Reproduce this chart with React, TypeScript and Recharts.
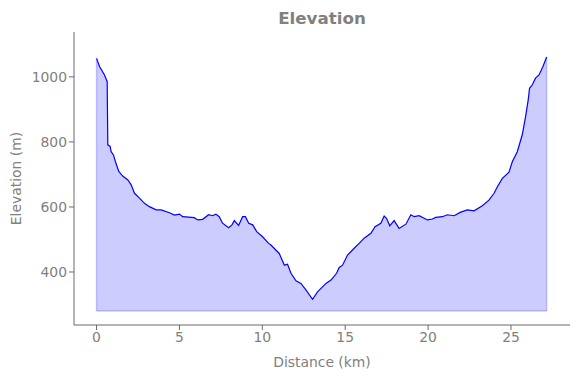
import {
  ComposedChart,
  Area,
  Line,
  XAxis,
  YAxis,
  ReferenceLine,
} from 'recharts';

const distanceKm = [
  0.0, 0.18, 0.48, 0.64, 0.68, 0.82, 0.88, 1.02, 1.14, 1.34, 1.58, 1.89, 2.09,
  2.29, 2.59, 2.89, 3.19, 3.6, 3.9, 4.4, 4.7, 5.0, 5.2, 5.9, 6.1, 6.4, 6.76,
  7.0, 7.2, 7.4, 7.6, 7.97, 8.17, 8.31, 8.57, 8.81, 8.98, 9.18, 9.42, 9.66,
  10.0, 10.38, 10.52, 11.02, 11.33, 11.52, 11.73, 12.03, 12.33, 12.63, 13.03,
  13.33, 13.84, 14.14, 14.48, 14.64, 14.84, 15.14, 15.54, 15.84, 16.14, 16.55,
  16.8, 17.15, 17.35, 17.49, 17.69, 17.95, 18.25, 18.66, 18.96, 19.16, 19.46,
  19.96, 20.26, 20.46, 20.86, 21.16, 21.57, 21.97, 22.37, 22.77, 23.27, 23.67,
  23.98, 24.18, 24.48, 24.88, 25.08, 25.38, 25.68, 25.88, 26.04, 26.12, 26.28,
  26.48, 26.69, 26.93, 27.15,
];

const elevationM = [
  1057, 1032, 1006, 986, 791, 786, 770, 760, 739, 709, 695, 683, 668, 642, 627,
  611, 601, 591, 591, 582, 575, 578, 570, 567, 560, 562, 576, 573, 578, 570,
  550, 536, 545, 558, 543, 570, 570, 550, 545, 524, 509, 488, 483, 457, 421,
  424, 396, 373, 365, 345, 316, 339, 365, 375, 396, 414, 421, 452, 473, 488,
  504, 519, 539, 550, 572, 565, 542, 558, 534, 547, 576, 570, 573, 560, 563,
  568, 570, 576, 573, 584, 591, 588, 604, 621, 642, 662, 688, 707, 739, 770,
  822, 878, 929, 965, 975, 996, 1006, 1032, 1061,
];

const xTicks = [0, 5, 10, 15, 20, 25];
const yTicks = [400, 600, 800, 1000];
const fillBase = 280;

const data = distanceKm.map((d, i) => ({ d, elev: elevationM[i] }));
const firstD = distanceKm[0];
const lastD = distanceKm[distanceKm.length - 1];

const textGray = '#808080';
const axisGray = '#6b6b6b';
const edgeBlue = 'rgba(0,0,255,0.2)';
const font = 'DejaVu Sans, sans-serif';
const fs = 13.9;

export default function App() {
  return (
    <div
      style={{
        position: 'absolute',
        left: 0,
        top: 0,
        width: 580,
        height: 378,
        background: '#fff',
        fontFamily: font,
      }}
    >
      <div
        style={{
          position: 'absolute',
          left: 74,
          width: 496,
          top: 8,
          textAlign: 'center',
          fontSize: 16.7,
          fontWeight: 'bold',
          color: textGray,
        }}
      >
        Elevation
      </div>
      <ComposedChart
        width={580}
        height={378}
        data={data}
        margin={{ top: 32, right: 10, bottom: 0, left: 0 }}
      >
        <XAxis
          dataKey="d"
          type="number"
          domain={[-1.36, 28.56]}
          ticks={xTicks}
          allowDataOverflow
          height={53}
          stroke={axisGray}
          tickSize={5}
          tick={{ fill: textGray, fontSize: fs, fontFamily: font }}
          label={{
            value: 'Distance (km)',
            position: 'insideBottom',
            offset: 11,
            fill: textGray,
            fontSize: fs,
            fontFamily: font,
          }}
        />
        <YAxis
          type="number"
          domain={[237, 1138]}
          ticks={yTicks}
          allowDataOverflow
          width={74}
          stroke={axisGray}
          tickSize={5}
          tick={{ fill: textGray, fontSize: fs, fontFamily: font }}
          label={({ viewBox }: any) => {
            const cx = viewBox.x + 16;
            const cy = viewBox.y + viewBox.height / 2;
            return (
              <text
                x={cx}
                y={cy}
                transform={`rotate(-90 ${cx} ${cy})`}
                textAnchor="middle"
                dominantBaseline="central"
                fill={textGray}
                fontSize={fs}
                fontFamily={font}
              >
                Elevation (m)
              </text>
            );
          }}
        />
        <Area
          type="linear"
          dataKey="elev"
          baseValue={fillBase}
          stroke="none"
          fill="#0000ff"
          fillOpacity={0.2}
          isAnimationActive={false}
        />
        {/* fill outline on the base and the two ends */}
        <ReferenceLine
          segment={[
            { x: firstD, y: fillBase },
            { x: lastD, y: fillBase },
          ]}
          stroke={edgeBlue}
          strokeWidth={1.5}
        />
        <ReferenceLine
          segment={[
            { x: firstD, y: fillBase },
            { x: firstD, y: elevationM[0] },
          ]}
          stroke={edgeBlue}
          strokeWidth={1.5}
        />
        <ReferenceLine
          segment={[
            { x: lastD, y: fillBase },
            { x: lastD, y: elevationM[elevationM.length - 1] },
          ]}
          stroke={edgeBlue}
          strokeWidth={1.5}
        />
        <Line
          type="linear"
          dataKey="elev"
          stroke="#0000ff"
          strokeWidth={1.2}
          dot={false}
          isAnimationActive={false}
        />
      </ComposedChart>
    </div>
  );
}
